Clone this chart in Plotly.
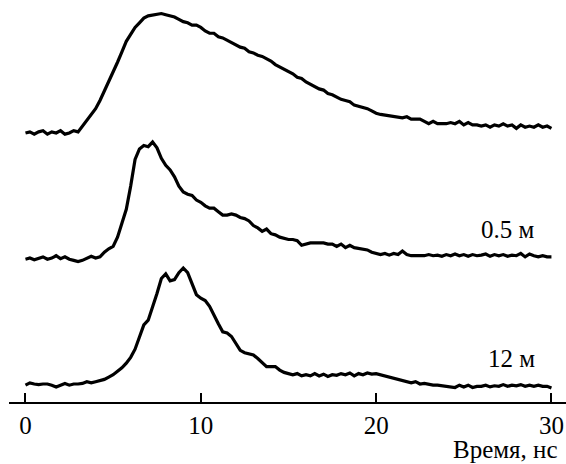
import numpy as np
import plotly.graph_objects as go

# time grid, ns (0 .. 30 step 0.25)
time_ns = [i * 0.25 for i in range(121)]

# normalized intensity of the three pulses
pulse_top = [
    0.00, 0.01, -0.01, 0.01, 0.02, -0.01, 0.01, 0.00, 0.02, -0.01, 0.00, 0.02,
    0.01, 0.06, 0.10, 0.15, 0.21, 0.28, 0.36, 0.44, 0.52, 0.61, 0.70, 0.79,
    0.85, 0.91, 0.95, 0.99, 1.01, 1.015, 1.02, 1.03, 1.02, 1.01, 1.00, 0.98,
    0.96, 0.95, 0.93, 0.93, 0.91, 0.88, 0.86, 0.86, 0.83, 0.82, 0.80, 0.78,
    0.76, 0.74, 0.73, 0.70, 0.69, 0.67, 0.66, 0.64, 0.62, 0.59, 0.57, 0.55,
    0.53, 0.51, 0.48, 0.47, 0.44, 0.42, 0.40, 0.38, 0.37, 0.34, 0.33, 0.31,
    0.29, 0.28, 0.27, 0.24, 0.23, 0.22, 0.21, 0.19, 0.17, 0.16, 0.155, 0.15,
    0.14, 0.14, 0.13, 0.14, 0.12, 0.12, 0.12, 0.10, 0.08, 0.10, 0.08, 0.08,
    0.08, 0.09, 0.08, 0.10, 0.07, 0.09, 0.07, 0.07, 0.06, 0.07, 0.05, 0.07,
    0.06, 0.08, 0.06, 0.07, 0.04, 0.07, 0.05, 0.06, 0.05, 0.07, 0.05, 0.06,
    0.04,
]

pulse_05m = [
    -0.01, 0.0, -0.015, 0.0, 0.01, -0.01, 0.0, 0.02, -0.005, 0.01, -0.01, -0.02,
    -0.03, -0.02, 0.0, 0.015, 0.0, 0.01, 0.05, 0.08, 0.10, 0.18, 0.30, 0.42,
    0.62, 0.85, 0.94, 0.97, 0.96, 1.00, 0.95, 0.86, 0.80, 0.76, 0.70, 0.62,
    0.57, 0.55, 0.54, 0.50, 0.48, 0.45, 0.43, 0.43, 0.40, 0.37, 0.37, 0.38,
    0.37, 0.35, 0.34, 0.32, 0.28, 0.26, 0.23, 0.25, 0.21, 0.20, 0.18, 0.17,
    0.16, 0.16, 0.15, 0.11, 0.12, 0.13, 0.13, 0.13, 0.13, 0.12, 0.12, 0.10,
    0.12, 0.09, 0.11, 0.09, 0.085, 0.08, 0.07, 0.05, 0.04, 0.03, 0.04, 0.025,
    0.04, 0.03, 0.06, 0.03, 0.02, 0.02, 0.025, 0.02, 0.03, 0.02, 0.025, 0.015,
    0.03, 0.02, 0.035, 0.02, 0.03, 0.015, 0.03, 0.02, 0.025, 0.035, 0.015, 0.03,
    0.02, 0.03, 0.015, 0.025, 0.02, 0.04, 0.01, 0.035, 0.02, 0.01, 0.02, 0.01,
    0.01,
]

pulse_12m = [
    -0.01, 0.01, 0.0, -0.005, 0.0, 0.0, -0.01, -0.025, -0.01, 0.005, -0.01, 0.0,
    0.0, 0.005, 0.02, 0.01, 0.02, 0.03, 0.04, 0.06, 0.08, 0.11, 0.14, 0.18,
    0.23, 0.30, 0.40, 0.51, 0.55, 0.66, 0.78, 0.91, 0.95, 0.89, 0.90, 0.96,
    1.00, 0.96, 0.86, 0.77, 0.74, 0.72, 0.67, 0.59, 0.52, 0.45, 0.44, 0.41,
    0.35, 0.29, 0.27, 0.26, 0.25, 0.22, 0.18, 0.15, 0.15, 0.15, 0.12, 0.10,
    0.09, 0.08, 0.09, 0.07, 0.08, 0.07, 0.09, 0.07, 0.085, 0.065, 0.08, 0.075,
    0.09, 0.08, 0.095, 0.07, 0.09, 0.08, 0.095, 0.085, 0.09, 0.08, 0.075, 0.06,
    0.05, 0.04, 0.03, 0.02, 0.01, 0.02, 0.0, 0.005, -0.005, -0.01, -0.01, -0.015,
    -0.02, -0.02, -0.03, -0.01, -0.025, -0.01, -0.03, -0.02, -0.02, -0.01, -0.025, -0.015,
    -0.02, -0.005, -0.02, -0.01, -0.015, -0.005, -0.02, -0.01, -0.02, -0.01, -0.02, -0.02,
    -0.035,
]

trace_labels = ["", "0.5 м", "12 м"]
tick_values = [0, 10, 20, 30]
tick_labels = ["0", "10", "20", "30"]
x_title = "Время, нс"

# vertical stacking offsets (layout)
offsets = [2.319, 1.241, 0.155]
series = [pulse_top, pulse_05m, pulse_12m]

FONT = "Liberation Serif"
FS = 25

fig = go.Figure()
for s, off in zip(series, offsets):
    assert len(s) == len(time_ns)
    fig.add_trace(go.Scatter(
        x=time_ns, y=[v + off for v in s], mode="lines",
        line=dict(color="black", width=3.2), showlegend=False,
        hoverinfo="skip"))

label_pos = [(29.18, 1.491), (29.18, 0.379)]
for txt, (lx, ly) in zip(trace_labels[1:], label_pos):
    fig.add_annotation(x=lx, y=ly, xref="x", yref="y", text=txt,
                       showarrow=False, xanchor="right", yanchor="middle",
                       font=dict(family=FONT, size=FS, color="black"))

fig.add_annotation(x=0.989, y=-0.1194, xref="paper", yref="paper",
                   text=x_title, showarrow=False,
                   xanchor="right", yanchor="middle",
                   font=dict(family=FONT, size=FS, color="black"))

fig.update_layout(
    width=566, height=464,
    margin=dict(l=9, r=0, t=0, b=62),
    paper_bgcolor="white", plot_bgcolor="white",
    xaxis=dict(range=[-0.94, 30.83], showgrid=False, zeroline=False,
               showline=True, linecolor="black", linewidth=2,
               ticks="inside", ticklen=9, tickwidth=2, tickcolor="black",
               tickvals=tick_values, ticktext=tick_labels,
               tickfont=dict(family=FONT, size=FS, color="black")),
    yaxis=dict(range=[0, 402 / 116], visible=False),
)

fig.write_html("out.html")
